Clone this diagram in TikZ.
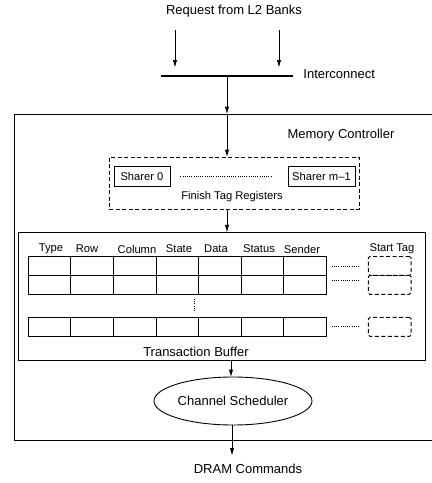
\documentclass[tikz,border=0pt]{standalone}
\usepackage{fontspec}
\setmainfont{Liberation Sans}
\usetikzlibrary{arrows.meta,shapes.geometric}

\begin{document}
\begin{tikzpicture}[x=1pt, y=-1pt, line width=.9pt,
  every node/.style={font=\fontsize{13}{15}\selectfont, inner sep=0pt},
  small/.style={font=\fontsize{11.2}{13}\selectfont},
  arr/.style={-{Triangle[length=7pt,width=3.8pt]}},
  cell/.style={draw, minimum width=42.57pt, minimum height=19pt, outer sep=0pt},
  tagbox/.style={draw, dash pattern=on 4pt off 2.5pt, rounded corners=1.5pt, minimum width=42.7pt, minimum height=19pt, outer sep=0pt},
  dots/.style={line width=.6pt, dash pattern=on .8pt off 1.4pt}]
\clip (0,0) rectangle (432,483);
% requests and interconnect
\node (req) at (234,11) {Request from L2 Banks};
\coordinate (in1) at (175,30);
\coordinate (in2) at (279,30);
\coordinate (out1) at (175,67);
\coordinate (out2) at (279,67);
\draw[arr] (in1) -- (out1);
\draw[arr] (in2) -- (out2);
\node (bar) [fill, minimum width=132pt, minimum height=2pt] at (227,76) {};
\node (icn) [anchor=west] at (303,74) {Interconnect};
% memory controller
\node (mc) [draw, minimum width=426pt, minimum height=326pt] at (227,277) {};
\node (mcl) at (341,135) {Memory Controller};
\draw[arr] (bar.south) -- (mc.north);
% finish tag registers
\node (ftr) [draw, dash pattern=on 4pt off 2.5pt, minimum width=250pt, minimum height=52pt] at (234,183) {};
\node (s0) [draw, small, minimum width=56pt, minimum height=20pt] at (142,176) {Sharer 0};
\node (sm) [draw, small, minimum width=67pt, minimum height=20pt] at (321.5,176) {Sharer m\textendash1};
\draw[dots] ([xshift=10pt]s0.east) -- ([xshift=-15pt]sm.west);
\node (ftrl) [small] at (232,197) {Finish Tag Registers};
\draw[arr] (mc.north) -- (mc.north |- ftr.north);
% transaction buffer
\node (tb) [draw, minimum width=407.4pt, minimum height=127.7pt] at (222,296.2) {};
\draw[arr] (mc.north |- ftr.south) -- (mc.north |- tb.north);
\foreach \lab/\x in {Type/51, Row/87, Column/137, State/179, Data/216, Status/259, Sender/302, Start Tag/392}
  \node[small] at (\x,249) {\lab};
\foreach \r/\y in {1/266, 2/284.8, 3/326.9} {
  \foreach \c in {0,...,6}
    \node[cell] (c\r\c) at (49.6+42.57*\c,\y) {};
  \node[tagbox] (t\r) at (389.7,\y) {};
}
\draw[dots] (331.7,266) -- (360,266);
\draw[dots] (331.7,280.7) -- (360,280.7);
\draw[dots] (331.7,326.7) -- (360,326.7);
\draw[dots] (194,299) -- (194,312);
\node (tbl) at (196,352) {Transaction Buffer};
% scheduler
\node (sch) [draw, ellipse, minimum width=158pt, minimum height=48pt] at (233,401) {Channel Scheduler};
\draw[arr] (231,360) -- (231,376.5);
\coordinate (cmd) at (232,455);
\draw[arr] (232,425) -- (cmd);
\node (dram) at (248,469) {DRAM Commands};
\end{tikzpicture}
\end{document}
